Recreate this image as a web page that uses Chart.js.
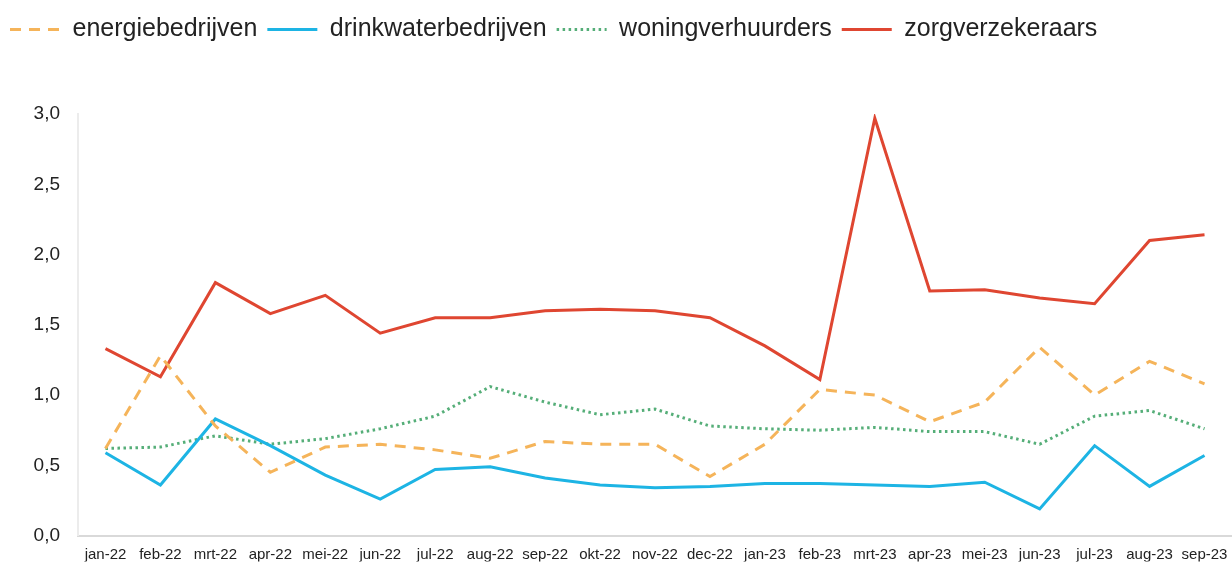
<!DOCTYPE html>
<html lang="nl">
<head>
  <meta charset="UTF-8">
  <title>Sectoren per maand</title>
  <script src="https://cdn.jsdelivr.net/npm/chart.js"></script>
  <style>
    html, body { margin: 0; padding: 0; background: #fff; }
    #wrap { width: 1232px; height: 565px; }
  </style>
</head>
<body>
  <div id="wrap"><canvas id="chart"></canvas></div>

  <script>
    const months = ['jan-22', 'feb-22', 'mrt-22', 'apr-22', 'mei-22', 'jun-22', 'jul-22',
      'aug-22', 'sep-22', 'okt-22', 'nov-22', 'dec-22', 'jan-23', 'feb-23', 'mrt-23',
      'apr-23', 'mei-23', 'jun-23', 'jul-23', 'aug-23', 'sep-23'];

    const energie = [0.62, 1.28, 0.78, 0.45, 0.63, 0.65, 0.61, 0.55, 0.67, 0.65, 0.65,
      0.42, 0.65, 1.04, 1.00, 0.81, 0.95, 1.34, 1.00, 1.24, 1.08];
    const drinkwater = [0.59, 0.36, 0.83, 0.64, 0.43, 0.26, 0.47, 0.49, 0.41, 0.36, 0.34,
      0.35, 0.37, 0.37, 0.36, 0.35, 0.38, 0.19, 0.64, 0.35, 0.57];
    const woning = [0.62, 0.63, 0.71, 0.65, 0.69, 0.76, 0.85, 1.06, 0.95, 0.86, 0.90,
      0.78, 0.76, 0.75, 0.77, 0.74, 0.74, 0.65, 0.85, 0.89, 0.76];
    const zorg = [1.33, 1.13, 1.80, 1.58, 1.71, 1.44, 1.55, 1.55, 1.60, 1.61, 1.60,
      1.55, 1.35, 1.11, 2.97, 1.74, 1.75, 1.69, 1.65, 2.10, 2.14];

    const LEGEND_LINE = 50;

    // extra room between legend and plot
    const legendSpacer = {
      id: 'legendSpacer',
      beforeInit(chart) {
        const fit = chart.legend.fit;
        chart.legend.fit = function () {
          fit.call(this);
          this.height += 62;
        };
      }
    };

    // the built-in legend symbol ignores borderDash, so draw the sample lines here
    const legendLines = {
      id: 'legendLines',
      afterDraw(chart) {
        const boxes = chart.legend.legendHitBoxes;
        const c = chart.ctx;
        chart.data.datasets.forEach((ds, i) => {
          const b = boxes[i];
          if (!b) return;
          const y = b.top + b.height / 2;
          c.save();
          c.strokeStyle = ds.borderColor;
          c.lineWidth = ds.borderWidth;
          c.setLineDash(ds.borderDash || []);
          c.beginPath();
          c.moveTo(b.left, y);
          c.lineTo(b.left + LEGEND_LINE, y);
          c.stroke();
          c.restore();
        });
      }
    };

    const ctx = document.getElementById('chart').getContext('2d');
    new Chart(ctx, {
      type: 'line',
      data: {
        labels: months,
        datasets: [
          {
            label: 'energiebedrijven',
            data: energie,
            borderColor: '#F5B45A',
            backgroundColor: '#F5B45A',
            borderWidth: 3,
            borderDash: [11, 8]
          },
          {
            label: 'drinkwaterbedrijven',
            data: drinkwater,
            borderColor: '#1DB4E4',
            backgroundColor: '#1DB4E4',
            borderWidth: 3
          },
          {
            label: 'woningverhuurders',
            data: woning,
            borderColor: '#55AE78',
            backgroundColor: '#55AE78',
            borderWidth: 3,
            borderDash: [2.5, 3.5]
          },
          {
            label: 'zorgverzekeraars',
            data: zorg,
            borderColor: '#DF4631',
            backgroundColor: '#DF4631',
            borderWidth: 3
          }
        ]
      },
      options: {
        animation: false,
        responsive: true,
        maintainAspectRatio: false,
        layout: { padding: { top: 7, right: 0, bottom: -3, left: 0 } },
        elements: {
          point: { radius: 0, hoverRadius: 0 },
          line: { tension: 0 }
        },
        plugins: {
          legend: {
            position: 'top',
            align: 'start',
            labels: {
              usePointStyle: true,
              pointStyle: 'line',
              pointStyleWidth: LEGEND_LINE,
              padding: 10,
              color: '#222',
              font: { family: '"Liberation Sans", Arial, sans-serif', size: 25 },
              generateLabels: chart => {
                const items = Chart.defaults.plugins.legend.labels.generateLabels(chart);
                items.forEach(it => { it.strokeStyle = 'rgba(0,0,0,0)'; it.fillStyle = 'rgba(0,0,0,0)'; });
                return items;
              }
            }
          },
          tooltip: { enabled: false }
        },
        scales: {
          x: {
            offset: true,
            afterFit: s => { s.height = 26; s.paddingRight = 0; s.paddingLeft = 0; },
            grid: { display: false, drawTicks: false },
            border: { display: true, color: '#d9d9d9', width: 2 },
            ticks: {
              color: '#222',
              padding: 10,
              maxRotation: 0,
              autoSkip: false,
              font: { family: '"Liberation Sans", Arial, sans-serif', size: 15 }
            }
          },
          y: {
            min: 0,
            max: 3,
            afterFit: s => { s.width = 78; },
            grid: { display: false, drawTicks: false },
            border: { display: true, color: '#ececec', width: 2 },
            ticks: {
              stepSize: 0.5,
              color: '#222',
              padding: 18,
              font: { family: '"Liberation Sans", Arial, sans-serif', size: 19 },
              callback: v => v.toFixed(1).replace('.', ',')
            }
          }
        }
      },
      plugins: [legendSpacer, legendLines]
    });
  </script>
</body>
</html>
